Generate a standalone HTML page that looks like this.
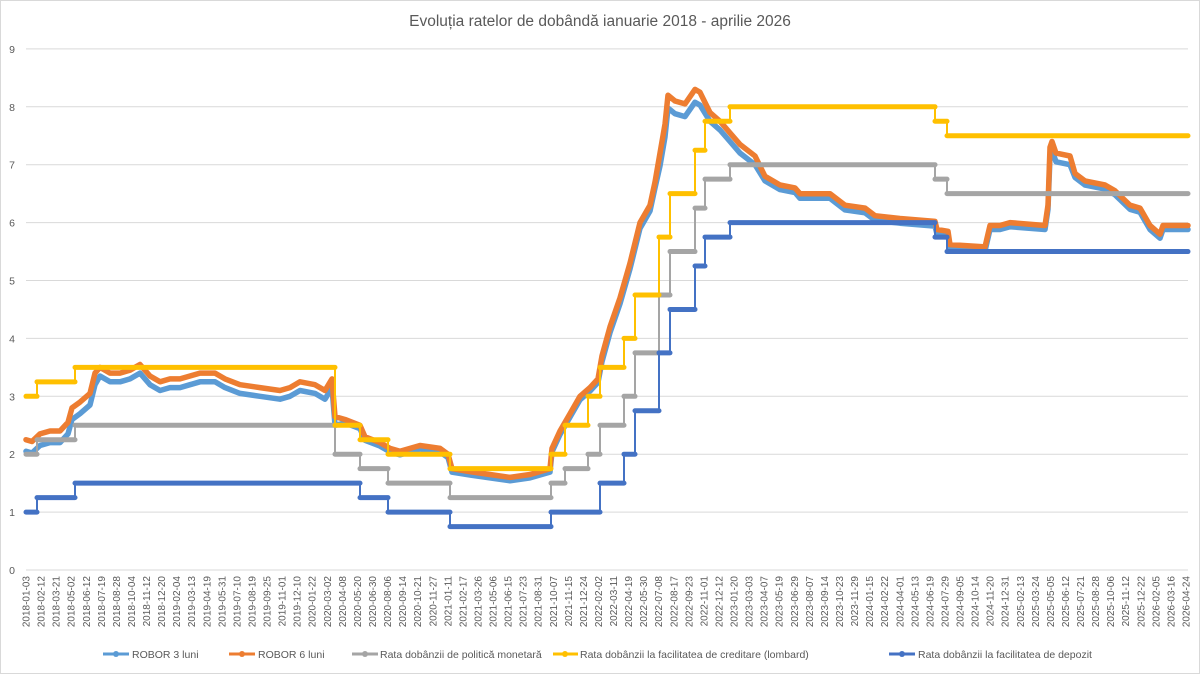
<!DOCTYPE html>
<html><head><meta charset="utf-8"><style>
html,body{margin:0;padding:0;background:#fff;}
svg{display:block;font-family:"Liberation Sans",sans-serif;}
</style></head><body>
<svg id="s" width="1200" height="674" xmlns="http://www.w3.org/2000/svg">
<rect x="0.5" y="0.5" width="1199" height="673" fill="#fff" stroke="#d9d9d9"/>
<text x="600" y="26" text-anchor="middle" font-size="15.5" fill="#595959">Evoluția ratelor de dobândă ianuarie 2018 - aprilie 2026</text>
<g id="grid"></g><g id="series"></g><g id="xl" font-size="10" fill="#595959"></g>
<g font-size="10.5" fill="#595959">
<line x1="103" y1="654" x2="129" y2="654" stroke="#5b9bd5" stroke-width="3"/><circle cx="116" cy="654" r="3" fill="#5b9bd5"/><text x="132" y="658">ROBOR 3 luni</text>
<line x1="229" y1="654" x2="255" y2="654" stroke="#ed7d31" stroke-width="3"/><circle cx="242" cy="654" r="3" fill="#ed7d31"/><text x="258" y="658">ROBOR 6 luni</text>
<line x1="352" y1="654" x2="378" y2="654" stroke="#a5a5a5" stroke-width="3"/><circle cx="365" cy="654" r="3" fill="#a5a5a5"/><text x="380" y="658">Rata dobânzii de politică monetară</text>
<line x1="553" y1="654" x2="578" y2="654" stroke="#ffc000" stroke-width="3"/><circle cx="565" cy="654" r="3" fill="#ffc000"/><text x="580" y="658">Rata dobânzii la facilitatea de creditare (lombard)</text>
<line x1="889" y1="654" x2="915" y2="654" stroke="#4472c4" stroke-width="3"/><circle cx="902" cy="654" r="3" fill="#4472c4"/><text x="918" y="658">Rata dobânzii la facilitatea de depozit</text>
</g>
</svg>
<script>
const NS="http://www.w3.org/2000/svg";
const Y=v=>570-57.9*v;
function el(p,t,a,txt){const e=document.createElementNS(NS,t);for(const k in a)e.setAttribute(k,a[k]);if(txt!==undefined)e.textContent=txt;document.getElementById(p).appendChild(e);return e;}
for(let v=0;v<=9;v++){el('grid','line',{x1:26,x2:1188,y1:Y(v),y2:Y(v),stroke:'#d9d9d9','stroke-width':1});el('grid','text',{x:12,y:Y(v)+4,'text-anchor':'middle','font-size':10.5,fill:'#595959'},String(v));}
const labels="2018-01-03 2018-02-12 2018-03-21 2018-05-02 2018-06-12 2018-07-19 2018-08-28 2018-10-04 2018-11-12 2018-12-20 2019-02-04 2019-03-13 2019-04-19 2019-05-31 2019-07-10 2019-08-19 2019-09-25 2019-11-01 2019-12-10 2020-01-22 2020-03-02 2020-04-08 2020-05-20 2020-06-30 2020-08-06 2020-09-14 2020-10-21 2020-11-27 2021-01-11 2021-02-17 2021-03-26 2021-05-06 2021-06-15 2021-07-23 2021-08-31 2021-10-07 2021-11-15 2021-12-24 2022-02-02 2022-03-11 2022-04-19 2022-05-30 2022-07-08 2022-08-17 2022-09-23 2022-11-01 2022-12-12 2023-01-20 2023-03-03 2023-04-07 2023-05-19 2023-06-29 2023-08-07 2023-09-14 2023-10-23 2023-11-29 2024-01-15 2024-02-22 2024-04-01 2024-05-13 2024-06-19 2024-07-29 2024-09-05 2024-10-14 2024-11-20 2024-12-31 2025-02-13 2025-03-24 2025-05-05 2025-06-12 2025-07-21 2025-08-28 2025-10-06 2025-11-12 2025-12-22 2026-02-05 2026-03-16 2026-04-24".split(" ");
labels.forEach((l,i)=>{const x=26+i*(1160/77)+3.5;el('xl','text',{x:0,y:0,'text-anchor':'end',transform:`translate(${x},576) rotate(-90)`},l);});
function step(arr,color){
  for(let i=0;i<arr.length-1;i++){const [x,v]=arr[i];const xn=arr[i+1][0];
    el('series','line',{x1:x,y1:Y(v),x2:xn,y2:Y(v),stroke:color,'stroke-width':5,'stroke-linecap':'round'});
    if(i<arr.length-2){const vn=arr[i+1][1];el('series','line',{x1:xn,y1:Y(v),x2:xn,y2:Y(vn),stroke:color,'stroke-width':2});}
  }
}
const r6=[[26,2.25],[32,2.22],[40,2.35],[50,2.4],[60,2.4],[68,2.55],[72,2.8],[80,2.9],[90,3.05],[95,3.4],[100,3.5],[110,3.4],[120,3.4],[130,3.45],[140,3.55],[150,3.35],[160,3.25],[170,3.3],[180,3.3],[190,3.35],[200,3.4],[215,3.4],[225,3.3],[240,3.2],[260,3.15],[280,3.1],[290,3.15],[300,3.25],[315,3.2],[325,3.1],[332,3.3],[335,2.65],[345,2.6],[360,2.5],[365,2.3],[380,2.2],[390,2.1],[400,2.05],[410,2.1],[420,2.15],[440,2.1],[448,2.0],[452,1.75],[470,1.7],[490,1.65],[510,1.6],[530,1.65],[550,1.75],[552,2.1],[560,2.4],[570,2.7],[580,3.0],[590,3.15],[598,3.3],[602,3.7],[610,4.2],[620,4.7],[630,5.3],[640,6.0],[650,6.3],[655,6.7],[660,7.2],[665,7.7],[668,8.2],[675,8.1],[685,8.05],[695,8.3],[700,8.25],[710,7.9],[720,7.75],[730,7.55],[740,7.35],[755,7.15],[765,6.8],[780,6.65],[795,6.6],[800,6.5],[830,6.5],[845,6.3],[865,6.25],[875,6.12],[900,6.07],[935,6.02],[937,5.88],[948,5.85],[950,5.62],[985,5.58],[990,5.95],[1000,5.95],[1010,6.0],[1045,5.95],[1048,6.3],[1050,7.3],[1052,7.4],[1056,7.2],[1070,7.15],[1075,6.85],[1085,6.72],[1105,6.65],[1115,6.55],[1130,6.3],[1140,6.25],[1150,5.95],[1160,5.8],[1163,5.95],[1188,5.95]];
function off(x){if(x<96)return 0.2;if(x<340)return 0.15;if(x<600)return 0.06;if(x<660)return 0.1;if(x<705)return 0.22;if(x<760)return 0.15;if(x<940)return 0.08;if(x>1048&&x<1075)return 0.15;return 0.07;}
function line(arr,color){const d=arr.map((p,i)=>(i?"L":"M")+p[0]+","+Y(p[1]).toFixed(1)).join("");
  el('series','path',{d,fill:'none',stroke:color,'stroke-width':5.5,'stroke-linejoin':'round','stroke-linecap':'round'});}
line(r6.map(p=>[p[0],p[1]-off(p[0])]),'#5b9bd5');
line(r6,'#ed7d31');
step([[26,2.0],[37,2.25],[75,2.5],[335,2.0],[360,1.75],[388,1.5],[450,1.25],[551,1.5],[565,1.75],[588,2.0],[600,2.5],[624,3.0],[635,3.75],[659,4.75],[670,5.5],[695,6.25],[705,6.75],[730,7.0],[935,6.75],[947,6.5],[1188,0]],'#a5a5a5');
step([[26,3.0],[37,3.25],[75,3.5],[335,2.5],[360,2.25],[388,2.0],[450,1.75],[551,2.0],[565,2.5],[588,3.0],[600,3.5],[624,4.0],[635,4.75],[659,5.75],[670,6.5],[695,7.25],[705,7.75],[730,8.0],[935,7.75],[947,7.5],[1188,0]],'#ffc000');
step([[26,1.0],[37,1.25],[75,1.5],[360,1.25],[388,1.0],[450,0.75],[551,1.0],[600,1.5],[624,2.0],[635,2.75],[659,3.75],[670,4.5],[695,5.25],[705,5.75],[730,6.0],[935,5.75],[947,5.5],[1188,0]],'#4472c4');
</script>
</body></html>
